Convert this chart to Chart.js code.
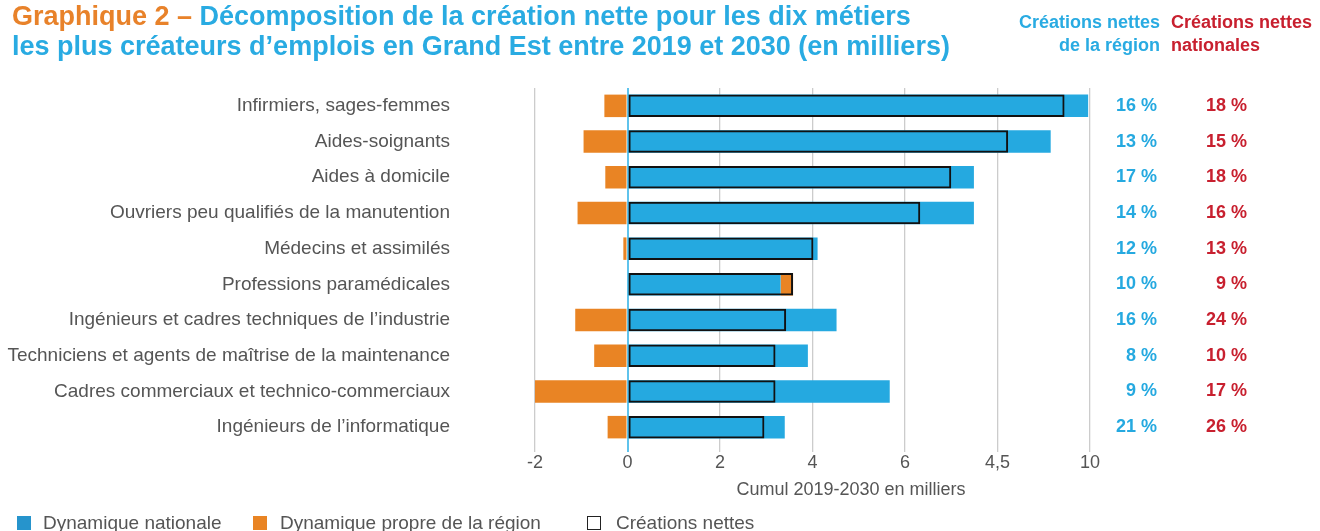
<!DOCTYPE html>
<html lang="fr">
<head>
<meta charset="UTF-8">
<title>Graphique 2 – Grand Est</title>
<script src="https://cdn.jsdelivr.net/npm/chart.js"></script>
<style>
  * { margin: 0; padding: 0; box-sizing: border-box; }
  body { width: 1320px; height: 531px; overflow: hidden; background: #fff; font-family: 'Liberation Sans', Arial, sans-serif; }
  #wrap { position: relative; width: 1320px; height: 531px; }
  canvas { position: absolute; left: 0; top: 0; }
  .titre { position: absolute; left: 12px; top: 1px; font-size: 27px; font-weight: bold; color: #29abe2; line-height: 30px; white-space: nowrap; }
  .titre .num { color: #e8822a; }
  .entete { position: absolute; top: 11px; font-size: 18px; font-weight: bold; line-height: 23px; white-space: nowrap; }
  .entete.reg { right: 160px; text-align: right; color: #29abe2; }
  .entete.nat { left: 1171px; color: #c8202f; }
  .leg { position: absolute; top: 512px; font-size: 19px; color: #555; line-height: 22px; white-space: nowrap; }
  .carre { position: absolute; top: 516px; width: 14px; height: 14px; }
</style>
</head>
<body>
<div id="wrap">
  <canvas id="graph" width="1320" height="531"></canvas>
  <div class="titre"><span class="num">Graphique 2 –</span> Décomposition de la création nette pour les dix métiers<br>les plus créateurs d’emplois en Grand Est entre 2019 et 2030 (en milliers)</div>
  <div class="entete reg">Créations nettes<br>de la région</div>
  <div class="entete nat">Créations nettes<br>nationales</div>

  <div class="carre" style="left:17px;background:#2694cc"></div>
  <div class="leg" style="left:43px">Dynamique nationale</div>
  <div class="carre" style="left:253px;background:#e98424"></div>
  <div class="leg" style="left:280px">Dynamique propre de la région</div>
  <div class="carre" style="left:587px;background:#fff;border:1px solid #222"></div>
  <div class="leg" style="left:616px">Créations nettes</div>
</div>

<script>
// données (en milliers)
const metiers = [
  'Infirmiers, sages-femmes',
  'Aides-soignants',
  'Aides à domicile',
  'Ouvriers peu qualifiés de la manutention',
  'Médecins et assimilés',
  'Professions paramédicales',
  'Ingénieurs et cadres techniques de l’industrie',
  'Techniciens et agents de maîtrise de la maintenance',
  'Cadres commerciaux et technico-commerciaux',
  'Ingénieurs de l’informatique'
];
const dynNationale = [9.96, 9.15, 7.49, 7.49, 4.11, 3.31, 4.52, 3.90, 5.67, 3.40];
const dynRegion = [-0.50, -0.95, -0.48, -1.08, -0.09, 0.27, -1.13, -0.72, -2.71, -0.43];
const creationsNettes = [9.45, 8.23, 7.00, 6.33, 4.02, 3.58, 3.43, 3.20, 3.20, 2.96];
const partRegion = ['16 %', '13 %', '17 %', '14 %', '12 %', '10 %', '16 %', '8 %', '9 %', '21 %'];
const partNationale = ['18 %', '15 %', '18 %', '16 %', '13 %', '9 %', '24 %', '10 %', '17 %', '26 %'];
const graduations = ['-2', '0', '2', '4', '6', '4,5', '10'];

const BLEU = '#25a9e0';
const ORANGE = '#e98424';
const ROUGE = '#c8202f';
const GRIS = '#555555';

// barres flottantes : le bleu part de 0, l'orange part de 0 (négatif) ou se pose au bout du bleu (positif)
const barresNat = dynNationale.map(v => [0, v]);
const barresReg = dynRegion.map((v, i) => v < 0 ? [v, 0] : [dynNationale[i], dynNationale[i] + v]);
const barresNettes = creationsNettes.map(v => [0, v]);

const textesCotes = {
  id: 'textesCotes',
  afterDraw(chart) {
    const ctx = chart.ctx;
    const y = chart.scales.y;
    ctx.save();
    ctx.font = 'bold 18px "Liberation Sans", Arial, sans-serif';
    ctx.textAlign = 'right';
    ctx.textBaseline = 'middle';
    metiers.forEach((m, i) => {
      const py = y.getPixelForValue(i);
      ctx.fillStyle = BLEU;
      ctx.fillText(partRegion[i], 1157, py);
      ctx.fillStyle = ROUGE;
      ctx.fillText(partNationale[i], 1247, py);
    });
    ctx.font = '18px "Liberation Sans", Arial, sans-serif';
    ctx.fillStyle = GRIS;
    ctx.textAlign = 'center';
    ctx.fillText('Cumul 2019-2030 en milliers', 851, 490);
    ctx.restore();
  }
};

new Chart(document.getElementById('graph'), {
  type: 'bar',
  data: {
    labels: metiers,
    datasets: [
      {
        label: 'Créations nettes',
        data: barresNettes,
        backgroundColor: 'rgba(0,0,0,0)',
        borderColor: '#111',
        borderWidth: 2,
        borderSkipped: false,
        order: 0
      },
      {
        label: 'Dynamique nationale',
        data: barresNat,
        backgroundColor: BLEU,
        borderWidth: 0,
        order: 1
      },
      {
        label: 'Dynamique propre de la région',
        data: barresReg,
        backgroundColor: ORANGE,
        borderWidth: 0,
        order: 2
      }
    ]
  },
  options: {
    indexAxis: 'y',
    responsive: false,
    animation: false,
    grouped: false,
    barPercentage: 0.63,
    categoryPercentage: 1,
    layout: { padding: { top: 88, right: 230, left: 0, bottom: 0 } },
    plugins: { legend: { display: false }, tooltip: { enabled: false } },
    scales: {
      x: {
        min: -2,
        max: 10,
        afterFit(scale) { scale.height = 86; },
        border: { display: false },
        grid: {
          color: c => c.tick && c.tick.value === 0 ? '#5fc3ec' : '#cccccc',
          lineWidth: c => c.tick && c.tick.value === 0 ? 2 : 1.3,
          tickLength: 7
        },
        ticks: {
          stepSize: 2,
          padding: 0,
          color: GRIS,
          font: { size: 18, family: '"Liberation Sans", Arial, sans-serif' },
          callback: (v, i) => graduations[i]
        }
      },
      y: {
        afterFit(scale) {
          scale.width = 535;
          scale.paddingTop = 0;
          scale.paddingBottom = 0;
        },
        border: { display: false },
        grid: { display: false },
        ticks: {
          padding: 77,
          color: GRIS,
          font: { size: 19, family: '"Liberation Sans", Arial, sans-serif' }
        }
      }
    }
  },
  plugins: [textesCotes]
});
</script>
</body>
</html>
